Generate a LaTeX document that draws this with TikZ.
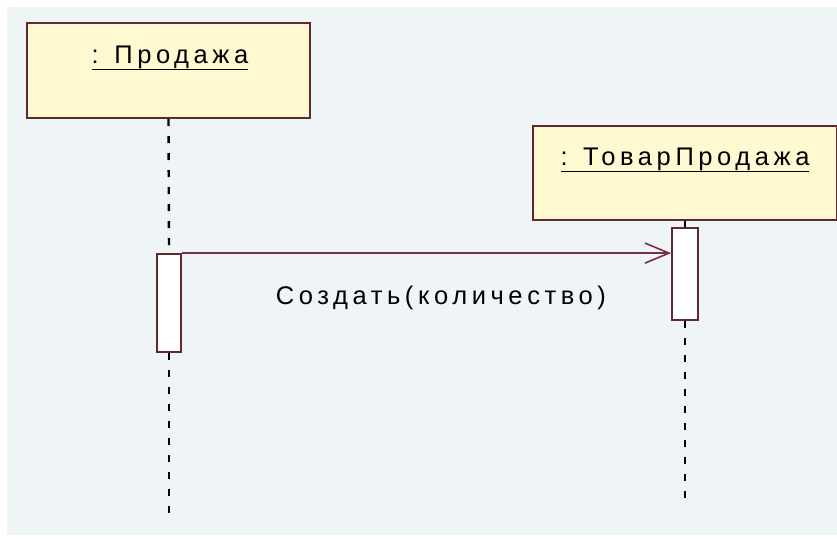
\documentclass[tikz,border=0pt]{standalone}
\usepackage{fontspec}
\setmainfont{Liberation Sans}
\newfontfamily\umlfont[LetterSpace=18]{Liberation Sans}
\usetikzlibrary{arrows.meta, positioning}
\definecolor{umlbg}{HTML}{EFF4F7}
\definecolor{umlline}{HTML}{5E2A2E}
\definecolor{umlfill}{HTML}{FFF9D2}
\definecolor{umlmsg}{HTML}{7A2E48}

\begin{document}
\begin{tikzpicture}[x=1pt, y=-1pt,
        every node/.style={align=center, font=\umlfont\fontsize{25.5}{30}\selectfont},
        objbox/.style={draw=umlline, fill=umlfill, line width=2pt,
                       minimum width=283pt, minimum height=95pt, inner sep=0pt},
        actbox/.style={draw=umlline, fill=white, line width=1.8pt,
                       minimum width=24pt, inner sep=0pt},
        life/.style={line width=2.4pt, dash pattern=on 7pt off 10pt},
        msg/.style={-{Straight Barb[length=24pt, width=20pt, line width=1.6pt]},
                    draw=umlmsg, line width=2.2pt}
    ]
        \useasboundingbox (0,0) rectangle (837,538);
        \fill[umlbg] (7,7) rectangle (837,535);

        \node[objbox] (sale) at (168.5,70.5) {};
        \node[anchor=base] (saletxt) at (170,63) {\underline{: Продажа}};
        \node[objbox, minimum width=304pt, minimum height=94pt] (item) at (685,173) {};
        \node[anchor=base] (itemtxt) at (685,165) {\underline{: ТоварПродажа}};

        \node[actbox, minimum height=98pt] (act1) at (169,303) {};
        \node[actbox, minimum width=26pt, minimum height=92pt] (act2) at (685,274) {};

        \coordinate (end1) at (169,515);
        \coordinate (end2) at (685,505);
        \draw[life] (sale.south) -- (act1.north);
        \draw[life] (act1.south) -- (end1);
        \draw[life] (item.south) -- (act2.north);
        \draw[life] (act2.south) -- (end2);

        \coordinate (hit) at (act2.west |- act1.north);
        \draw[msg] (act1.north east) -- (hit);
        \node (create) at (441,298) {Создать(количество)};
    \end{tikzpicture}
\end{document}
